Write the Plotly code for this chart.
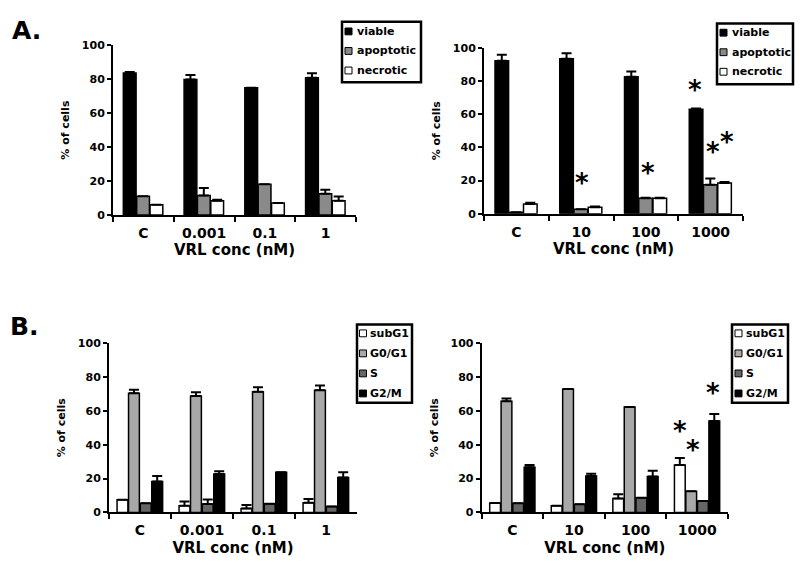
import plotly.graph_objects as go

# ---------------- data ----------------
cats_a1 = ["C", "0.001", "0.1", "1"]
cats_a2 = ["C", "10", "100", "1000"]
cats_b1 = ["C", "0.001", "0.1", "1"]
cats_b2 = ["C", "10", "100", "1000"]

series_a = ["viable", "apoptotic", "necrotic"]
series_b = ["subG1", "G0/G1", "S", "G2/M"]

# Panel A left
a1_viable = [83.6, 79.7, 74.9, 80.8]
a1_viable_err = [0.5, 2.7, 0.0, 2.7]
a1_apopt = [11.1, 11.5, 18.2, 12.5]
a1_apopt_err = [0.0, 4.4, 0.0, 2.4]
a1_necro = [6.1, 8.5, 7.1, 8.4]
a1_necro_err = [0.0, 0.6, 0.0, 2.5]

# Panel A right
a2_viable = [92.2, 93.3, 82.5, 63.0]
a2_viable_err = [3.5, 3.4, 3.2, 0.4]
a2_apopt = [1.0, 2.7, 9.4, 17.5]
a2_apopt_err = [0.0, 0.0, 0.3, 3.7]
a2_necro = [5.9, 3.9, 9.4, 18.6]
a2_necro_err = [0.8, 0.5, 0.3, 0.6]

# Panel B left
b1_subg1 = [7.5, 4.0, 2.3, 5.8]
b1_subg1_err = [0.0, 2.5, 2.1, 2.1]
b1_g0g1 = [70.4, 68.8, 71.3, 72.1]
b1_g0g1_err = [2.1, 2.2, 2.7, 2.9]
b1_s = [5.4, 5.0, 5.2, 3.5]
b1_s_err = [0.0, 2.7, 0.0, 0.0]
b1_g2m = [18.3, 22.7, 23.7, 20.6]
b1_g2m_err = [3.2, 1.7, 0.0, 3.2]

# Panel B right
b2_subg1 = [5.6, 4.0, 8.3, 28.1]
b2_subg1_err = [0.0, 0.0, 2.5, 4.0]
b2_g0g1 = [65.6, 72.9, 62.3, 12.5]
b2_g0g1_err = [1.7, 0.0, 0.0, 0.0]
b2_s = [5.4, 4.8, 8.7, 6.7]
b2_s_err = [0.0, 0.0, 0.0, 0.0]
b2_g2m = [26.7, 21.5, 21.3, 54.0]
b2_g2m_err = [1.4, 1.4, 3.3, 4.1]

# significance asterisks (category index position, value)
star_a2_x = [1.02, 2.04, 2.76, 3.04, 3.25]
star_a2_y = [20.8, 27.0, 76.8, 39.5, 45.7]
star_b2_x = [2.72, 2.93, 3.26]
star_b2_y = [50.6, 39.2, 72.8]

y_ticks = [0, 20, 40, 60, 80, 100]
x_title = "VRL conc (nM)"
y_title = "% of cells"

# ---------------- styling ----------------
FONT = "DejaVu Sans"
C_BLACK = "#000000"
C_APOPT = "#8a8a8a"
C_WHITE = "#ffffff"
C_G0G1 = "#a8a8a8"
C_S = "#666666"
colors_a = [C_BLACK, C_APOPT, C_WHITE]
colors_b = [C_WHITE, C_G0G1, C_S, C_BLACK]

W, H = 800, 569


def px_x(p):
    return p / W


def px_y(p):
    return 1 - p / H


fig = go.Figure()


def add_bar(x, y, err, name, color, ax, offset, width):
    fig.add_trace(go.Bar(
        x=x, y=y, name=name, showlegend=False,
        marker=dict(color=color, line=dict(color="black", width=1.5)),
        error_y=dict(type="data", symmetric=False, array=err,
                     arrayminus=[0] * len(err), color="black",
                     thickness=2, width=5),
        offset=offset, width=width,
        xaxis="x" + ax, yaxis="y" + ax,
    ))


wa = 0.21
offs_a = [-0.33, -0.11, 0.11]
for vals, errs, nm, col, off in zip([a1_viable, a1_apopt, a1_necro],
                                    [a1_viable_err, a1_apopt_err, a1_necro_err],
                                    series_a, colors_a, offs_a):
    add_bar(cats_a1, vals, errs, nm, col, "", off, wa)
for vals, errs, nm, col, off in zip([a2_viable, a2_apopt, a2_necro],
                                    [a2_viable_err, a2_apopt_err, a2_necro_err],
                                    series_a, colors_a, offs_a):
    add_bar(cats_a2, vals, errs, nm, col, "2", off, wa)

wb = 0.175
offs_b = [-0.37, -0.185, 0.005, 0.19]
for vals, errs, nm, col, off in zip([b1_subg1, b1_g0g1, b1_s, b1_g2m],
                                    [b1_subg1_err, b1_g0g1_err, b1_s_err, b1_g2m_err],
                                    series_b, colors_b, offs_b):
    add_bar(cats_b1, vals, errs, nm, col, "3", off, wb)
for vals, errs, nm, col, off in zip([b2_subg1, b2_g0g1, b2_s, b2_g2m],
                                    [b2_subg1_err, b2_g0g1_err, b2_s_err, b2_g2m_err],
                                    series_b, colors_b, offs_b):
    add_bar(cats_b2, vals, errs, nm, col, "4", off, wb)

# axes domains (pixel positions of the reference)
panels = {
    "": dict(x0=113, x1=356, ytop=40, ybot=214),
    "2": dict(x0=484, x1=743, ytop=42.7, ybot=212.7),
    "3": dict(x0=109, x1=357, ytop=345, ybot=518.3),
    "4": dict(x0=481.7, x1=728, ytop=345, ybot=518.3),
}

layout_axes = {}
for k, p in panels.items():
    layout_axes["xaxis" + k] = dict(
        domain=[px_x(p["x0"]), px_x(p["x1"])],
        anchor="y" + k, type="category", range=[-0.5, 3.5],
        showline=True, linecolor="black", linewidth=2,
        ticks="outside", tickson="boundaries", ticklen=5, tickwidth=2,
        tickcolor="black", showgrid=False, zeroline=False,
        ticklabelstandoff=4,
        tickfont=dict(family=FONT, size=14, color="black", weight="bold"),
        title=dict(text=x_title, standoff=5,
                   font=dict(family=FONT, size=15, color="black", weight="bold")),
    )
    layout_axes["yaxis" + k] = dict(
        domain=[px_y(p["ybot"]), px_y(p["ytop"])],
        anchor="x" + k, range=[0, 100], tickvals=y_ticks,
        showline=True, linecolor="black", linewidth=2,
        ticks="outside", ticklen=4, tickwidth=2, tickcolor="black",
        showgrid=False, zeroline=False,
        tickfont=dict(family=FONT, size=11, color="black", weight="bold"),
        title=dict(text=y_title, standoff=10,
                   font=dict(family=FONT, size=11, color="black", weight="bold")),
    )

annotations = []
shapes = []

# asterisks
for xs, ys, ax in [(star_a2_x, star_a2_y, "2"), (star_b2_x, star_b2_y, "4")]:
    for sx, sy in zip(xs, ys):
        annotations.append(dict(
            x=sx, y=sy, xref="x" + ax, yref="y" + ax, text="*",
            showarrow=False, yshift=-4,
            font=dict(family=FONT, size=26, color="black", weight="bold"),
        ))

# panel letters
annotations.append(dict(x=px_x(10), y=px_y(8), xref="paper", yref="paper",
                        text="A.", showarrow=False, xanchor="left", yanchor="top",
                        font=dict(family=FONT, size=25, color="black", weight="bold")))
annotations.append(dict(x=px_x(8), y=px_y(311), xref="paper", yref="paper",
                        text="B.", showarrow=False, xanchor="left", yanchor="top",
                        font=dict(family=FONT, size=25, color="black", weight="bold")))

# legends (box in pixel coordinates)
legends = [
    dict(box=(342, 16, 421, 78), sq_x=345, txt_x=355, y0=26, dy=20,
         names=series_a, colors=colors_a),
    dict(box=(717, 18, 793, 80), sq_x=720, txt_x=729.5, y0=27.3, dy=20,
         names=series_a, colors=colors_a),
    dict(box=(357, 326, 412, 406), sq_x=359.5, txt_x=368, y0=335, dy=20.5,
         names=series_b, colors=colors_b),
    dict(box=(732, 326, 788, 406), sq_x=735, txt_x=744, y0=335, dy=20.5,
         names=series_b, colors=colors_b),
]
SQ = 7
for lg in legends:
    bx0, by0, bx1, by1 = lg["box"]
    shapes.append(dict(type="rect", xref="paper", yref="paper",
                       x0=px_x(bx0), x1=px_x(bx1), y0=px_y(by1), y1=px_y(by0),
                       line=dict(color="black", width=2.5), fillcolor="white",
                       layer="above"))
    for i, (nm, col) in enumerate(zip(lg["names"], lg["colors"])):
        cy = lg["y0"] + i * lg["dy"]
        shapes.append(dict(type="rect", xref="paper", yref="paper",
                           x0=px_x(lg["sq_x"]), x1=px_x(lg["sq_x"] + SQ),
                           y0=px_y(cy + SQ / 2), y1=px_y(cy - SQ / 2),
                           line=dict(color="black", width=1), fillcolor=col,
                           layer="above"))
        annotations.append(dict(x=px_x(lg["txt_x"]), y=px_y(cy), xref="paper",
                                yref="paper", text=nm, showarrow=False,
                                xanchor="left", yanchor="middle",
                                font=dict(family=FONT, size=11, color="black",
                                          weight="bold")))

fig.update_layout(
    width=W, height=H,
    margin=dict(l=0, r=0, t=0, b=0),
    paper_bgcolor="white", plot_bgcolor="white",
    barmode="overlay",
    showlegend=False,
    annotations=annotations,
    shapes=shapes,
    **layout_axes,
)

fig.write_html(
    "out.html",
    config={"displayModeBar": False},
    post_script="document.body.style.margin='0px';document.body.style.overflow='hidden';",
)
